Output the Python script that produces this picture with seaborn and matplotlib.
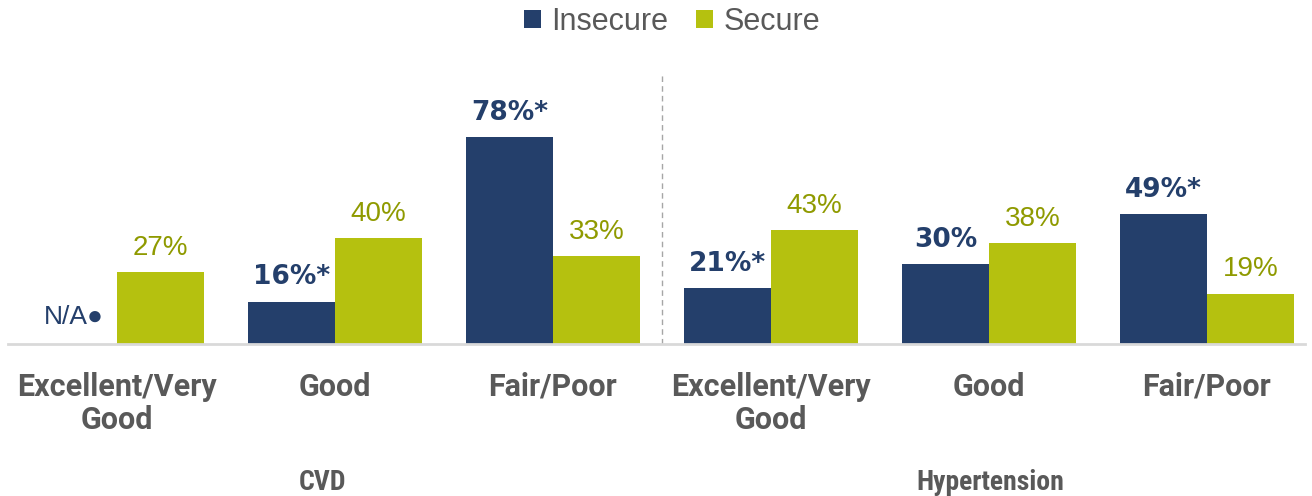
import numpy as np
import pandas as pd
import matplotlib
matplotlib.use("Agg")
import matplotlib.pyplot as plt
import seaborn as sns

groups = ["CVD", "CVD", "CVD", "Hypertension", "Hypertension", "Hypertension"]
categories = ["Excellent/Very\nGood", "Good", "Fair/Poor", "Excellent/Very\nGood", "Good", "Fair/Poor"]
insecure = [np.nan, 16, 78, 21, 30, 49]
secure = [27, 40, 33, 43, 38, 19]
insecure_labels = ["N/A●", "16%*", "78%*", "21%*", "30%", "49%*"]
secure_labels = ["27%", "40%", "33%", "43%", "38%", "19%"]
series = ["Insecure", "Secure"]

NAVY = "#243F6B"
LIME = "#B5C10F"
OLIVE = "#8F9A00"
GRAY = "#595959"

sns.set_style("white")
plt.rcParams['font.family'] = ['Roboto', 'DejaVu Sans']

keys = [f"{g}|{i}" for i, g in enumerate(groups)]
df = pd.DataFrame({
    "key": keys * 2,
    "value": insecure + secure,
    "Status": [series[0]] * 6 + [series[1]] * 6,
})

fig = plt.figure(figsize=(13.12, 4.96), dpi=100)
ax = fig.add_axes([0.0061, 0.3065, 0.9886, 0.535])
sns.barplot(data=df, x="key", y="value", hue="Status", order=keys,
            hue_order=series, palette=[NAVY, LIME], width=0.8,
            saturation=1, ax=ax, legend=True, linewidth=0)

ax.set_ylim(0, 100)
ax.set_xlim(-0.5, 5.45)
ax.set_yticks([])
ax.set_ylabel("")
ax.set_xlabel("")
for s in ["top", "right", "left"]:
    ax.spines[s].set_visible(False)
ax.spines["bottom"].set_color("#D9D9D9")
ax.spines["bottom"].set_linewidth(2)

ax.set_xticks(range(6))
ax.set_xticklabels(categories, fontsize=22, fontweight="bold", color=GRAY,
                   linespacing=1.12, va="top")
ax.tick_params(axis="x", length=0, pad=20)

# value labels
for i in range(6):
    xi = i - 0.2
    if np.isnan(insecure[i]):
        ax.annotate(insecure_labels[i], (xi, 0), xytext=(0, 11), textcoords="offset points",
                    ha="center", va="bottom", fontsize=19, color=NAVY,
                    family=['Liberation Sans', 'DejaVu Sans'])
    else:
        ax.annotate(insecure_labels[i], (xi, insecure[i]), xytext=(0, 8), textcoords="offset points",
                    ha="center", va="bottom", fontsize=19, fontweight="bold", color=NAVY,
                    family=['DejaVu Sans'])
    xs = i + 0.2
    ax.annotate(secure_labels[i], (xs, secure[i]), xytext=(0, 8), textcoords="offset points",
                ha="center", va="bottom", fontsize=20, color=OLIVE,
                family=['Liberation Sans', 'DejaVu Sans'])

ax.axvline(2.5, ymin=0, ymax=1.02, color="#A6A6A6", linestyle=(0, (4, 3)), linewidth=1, clip_on=False)

# group labels
fig.text(322 / 1312, 1 - 482 / 496, "CVD", ha="center", va="center",
         fontsize=20, fontweight="bold", color=GRAY, family=['Roboto Condensed', 'Roboto', 'DejaVu Sans'])
fig.text(990 / 1312, 1 - 482 / 496, "Hypertension", ha="center", va="center",
         fontsize=20, fontweight="bold", color=GRAY, family=['Roboto Condensed', 'Roboto', 'DejaVu Sans'])

leg = ax.legend(loc="center", bbox_to_anchor=(672 / 1312, 1 - 22 / 496),
                bbox_transform=fig.transFigure, ncol=2, frameon=False,
                handlelength=0.55, handleheight=0.55,
                handletextpad=0.35, columnspacing=0.9,
                prop={'family': ['Liberation Sans', 'DejaVu Sans'], 'size': 22})
for t in leg.get_texts():
    t.set_color(GRAY)

fig.savefig("out.png", dpi=100)
